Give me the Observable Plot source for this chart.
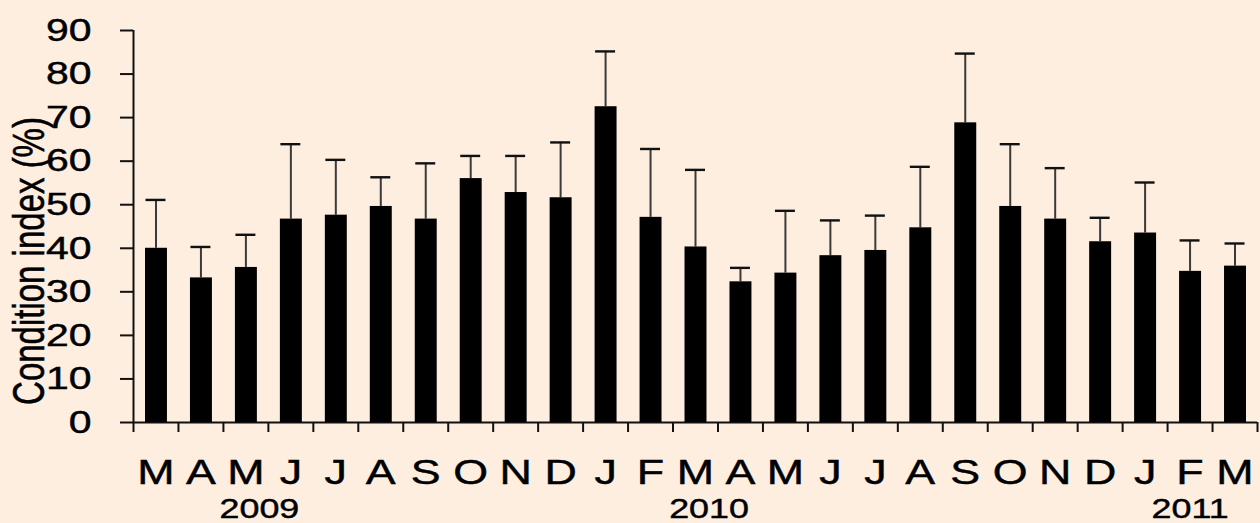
<!DOCTYPE html>
<html>
<head>
<meta charset="utf-8">
<script src="https://cdn.jsdelivr.net/npm/d3@7"></script>
<script src="https://cdn.jsdelivr.net/npm/@observablehq/plot@0.6"></script>
<style>
  html, body { margin: 0; padding: 0; background: #fdeee0; }
  #chart svg { display: block; }
  #chart svg text { stroke: #000; stroke-width: 0.45px; }
</style>
</head>
<body>
<div id="chart"></div>
<script>
// Month categories (Mar 2009 – Mar 2011)
const months = ["M","A","M","J","J","A","S","O","N","D","J","F","M","A","M","J","J","A","S","O","N","D","J","F","M"];
// Mean condition index (%)
const means = [40.0,33.2,35.6,46.7,47.6,49.6,46.7,56.0,52.8,51.6,72.5,47.1,40.3,32.3,34.3,38.3,39.5,44.7,68.8,49.6,46.7,41.5,43.5,34.7,35.9];
// Standard deviation (upper error bar length)
const sds = [11.1,7.1,7.5,17.2,12.7,6.7,12.8,5.2,8.4,12.7,12.7,15.7,17.7,3.2,14.3,8.1,8.0,14.0,15.9,14.3,11.7,5.5,11.6,7.1,5.2];
// Y tick values
const yTicks = [0,10,20,30,40,50,60,70,80,90];
// Year labels and where they sit along the month axis (in month units)
const years = ["2009","2010","2011"];
const yearPos = [2.8, 12.8, 23.5];

const data = months.map((m, i) => ({i, month: m, mean: means[i], sd: sds[i]}));
const yearData = years.map((y, k) => ({label: y, pos: yearPos[k]}));

const plot = Plot.plot({
  width: 1260,
  height: 523,
  marginLeft: 133,
  marginRight: 3,
  marginTop: 30,
  marginBottom: 101,
  style: {background: "transparent", fontFamily: "'Liberation Sans', Arial, sans-serif", color: "#000", overflow: "visible"},
  x: {type: "linear", domain: [0, months.length]},
  y: {domain: [0, 90]},
  marks: [
    Plot.axisY(yTicks, {tickSize: 13, tickPadding: 29, fontSize: 32, stroke: "#111", strokeWidth: 2, fill: "#000", tickFormat: d => String(d), label: null}),
    Plot.axisX(d3.range(months.length + 1), {tickSize: 10, stroke: "#111", strokeWidth: 2, tickFormat: () => "", label: null}),
    Plot.ruleX([0], {y1: 0, y2: 90, stroke: "#111", strokeWidth: 2}),
    Plot.ruleY([0], {x1: 0, x2: months.length, stroke: "#111", strokeWidth: 2}),
    Plot.ruleX(data, {x: d => d.i + 0.5, y1: "mean", y2: d => d.mean + d.sd, stroke: "#3a3a3a", strokeWidth: 2}),
    Plot.ruleY(data, {y: d => d.mean + d.sd, x1: "i", x2: d => d.i + 1, insetLeft: 12.5, insetRight: 12.5, stroke: "#111", strokeWidth: 2.4}),
    Plot.rectY(data, {x1: "i", x2: d => d.i + 1, y1: 0, y2: "mean", insetLeft: 12, insetRight: 11, fill: "#000"}),
    Plot.text(data, {x: d => d.i + 0.5, y: () => 0, text: "month", lineAnchor: "bottom", dy: 61, fontSize: 35, fill: "#000"}),
    Plot.text(yearData, {x: "pos", y: () => 0, text: "label", lineAnchor: "bottom", dy: 95, fontSize: 28, fill: "#000"})
  ]
});

// Horizontal stretch of glyphs as in the reference figure
plot.querySelectorAll("text").forEach(t => {
  const tr = t.getAttribute("transform");
  if (tr) {
    t.setAttribute("transform", tr + " scale(1.28,1)");
  } else {
    const x = +(t.getAttribute("x") || 0), y = +(t.getAttribute("y") || 0);
    t.removeAttribute("x"); t.removeAttribute("y");
    t.setAttribute("transform", `translate(${x},${y}) scale(1.28,1)`);
  }
});

// Y axis title
d3.select(plot).append("text")
  .attr("transform", "translate(44,261) scale(1.35,1) rotate(-90)")
  .attr("text-anchor", "middle")
  .attr("font-size", 33)
  .attr("fill", "#000")
  .text("Condition index (%)");

document.getElementById("chart").appendChild(plot);
</script>
</body>
</html>
